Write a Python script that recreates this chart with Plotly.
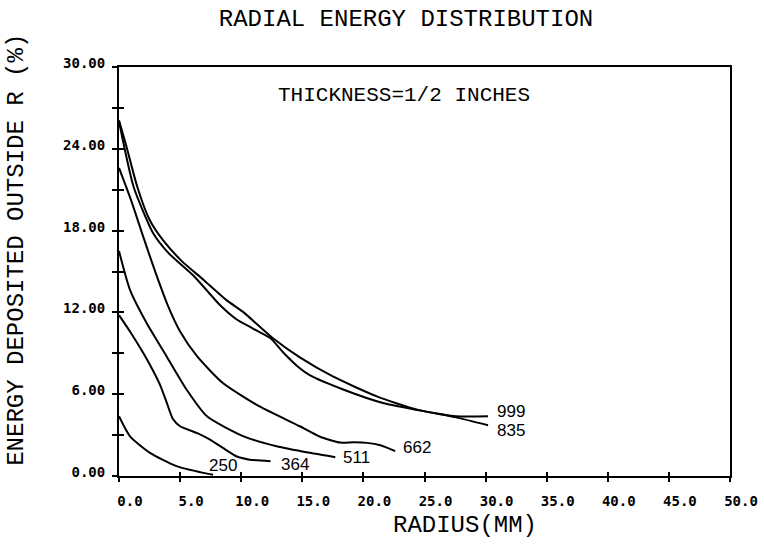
import plotly.graph_objects as go

# ---- data ----
r_999 = [0.0, 0.6, 1.5, 2.5, 3.6, 5.1, 6.9, 8.8, 10.2, 12.6, 14.8, 17.5, 21.1, 24.4, 27.6, 30.2]
e_999 = [26.1, 24.2, 21.2, 18.8, 17.3, 15.8, 14.4, 12.9, 12.0, 10.1, 8.7, 7.3, 5.84, 4.87, 4.38, 4.38]

r_835 = [0.0, 1.2, 2.8, 4.0, 6.2, 7.2, 8.3, 9.6, 11.0, 12.4, 13.4, 14.8, 15.6, 18.4, 21.6, 25.7, 27.6, 30.2]
e_835 = [26.0, 21.2, 17.8, 16.4, 14.6, 13.6, 12.5, 11.5, 10.8, 10.1, 9.1, 7.9, 7.4, 6.33, 5.36, 4.63, 4.3, 3.72]

r_662 = [0.0, 1.0, 2.0, 3.0, 4.0, 5.0, 6.4, 8.5, 11.5, 14.8, 16.4, 18.1, 19.2, 20.3, 21.4, 22.6]
e_662 = [22.6, 20.2, 17.5, 14.9, 12.5, 10.6, 8.77, 6.82, 5.1, 3.65, 2.9, 2.45, 2.47, 2.43, 2.25, 1.82]

r_511 = [0.0, 0.9, 2.27, 3.9, 5.54, 7.2, 10.2, 12.9, 15.6, 17.7]
e_511 = [16.5, 13.65, 11.2, 8.77, 6.33, 4.38, 2.91, 2.18, 1.7, 1.38]

r_364 = [0.0, 0.9, 2.0, 2.8, 3.4, 3.9, 4.4, 5.0, 6.36, 7.45, 8.5, 9.6, 10.7, 12.4]
e_364 = [11.8, 10.6, 9.0, 7.7, 6.6, 5.4, 4.2, 3.65, 3.16, 2.67, 2.06, 1.45, 1.2, 1.08]

r_250 = [0.0, 0.9, 2.54, 4.7, 6.9, 7.7]
e_250 = [4.38, 2.91, 1.7, 0.72, 0.23, 0.1]

curve_names = ["999", "835", "662", "511", "364", "250"]
x_ticks = [0, 5, 10, 15, 20, 25, 30, 35, 40, 45, 50]
y_ticks = [0, 6, 12, 18, 24, 30]

title_text = "RADIAL ENERGY DISTRIBUTION"
x_title = "RADIUS(MM)"
y_title = "ENERGY DEPOSITED OUTSIDE R (%)"
note_text = "THICKNESS=1/2 INCHES"

# ---- figure ----
curves = [(r_999, e_999), (r_835, e_835), (r_662, e_662),
          (r_511, e_511), (r_364, e_364), (r_250, e_250)]
# label offsets in pixels (xshift, yshift) from curve end
label_offsets = {"999": (7, 5), "835": (7, -5), "662": (6, 4),
                 "511": (6, 0), "364": (8, -3), "250": (-6, 9)}

fig = go.Figure()
for name, (xs, ys) in zip(curve_names, curves):
    fig.add_trace(go.Scatter(x=xs, y=ys, mode="lines", name=name,
                             line=dict(color="black", width=2, shape="spline", smoothing=0.6),
                             showlegend=False, hoverinfo="skip"))
# invisible trace for the overlay axes (inner half of tick marks)
fig.add_trace(go.Scatter(x=[None], y=[None], xaxis="x2", yaxis="y2", showlegend=False))

mono = "Liberation Mono"
tickfont = dict(family="DejaVu Sans Mono", size=14, color="black", weight="bold")

fig.update_layout(
    width=764, height=559,
    margin=dict(l=119, r=34, t=67, b=82.5, autoexpand=False),
    paper_bgcolor="white", plot_bgcolor="white",
    title=dict(text=title_text, x=406/764, xanchor="center", xref="container",
               y=1-18/559, yanchor="middle", yref="container",
               font=dict(family=mono, size=24, color="black")),
    xaxis=dict(range=[0, 50], tickvals=x_ticks, tickformat=".1f",
               ticks="outside", ticklen=4, tickwidth=2, tickcolor="black",
               showline=True, linewidth=2, linecolor="black", mirror=True,
               showgrid=False, zeroline=False, tickfont=tickfont, automargin=False,
               ticklabelshift=11, ticklabelstandoff=7),
    yaxis=dict(range=[0, 30], tickvals=y_ticks, tickformat=".2f",
               ticks="outside", ticklen=5, tickwidth=2, tickcolor="black",
               minor=dict(dtick=3, tick0=3, ticks="outside", ticklen=5, tickwidth=2, tickcolor="black"),
               showline=True, linewidth=2, linecolor="black", mirror=True,
               showgrid=False, zeroline=False, tickfont=tickfont, automargin=False,
               ticklabelshift=-4, ticklabelstandoff=4),
    xaxis2=dict(range=[0, 50], overlaying="x", anchor="y2", side="bottom",
                tickvals=x_ticks, ticks="inside", ticklen=4, tickwidth=2, tickcolor="black",
                showticklabels=False, showline=False, showgrid=False, zeroline=False),
    yaxis2=dict(range=[0, 30], overlaying="y", anchor="x2", side="left",
                tickvals=y_ticks, ticks="inside", ticklen=5, tickwidth=2, tickcolor="black",
                minor=dict(dtick=3, tick0=3, ticks="inside", ticklen=5, tickwidth=2, tickcolor="black"),
                showticklabels=False, showline=False, showgrid=False, zeroline=False),
)

annots = []
for name, (xs, ys) in zip(curve_names, curves):
    dx, dy = label_offsets[name]
    annots.append(dict(x=xs[-1], y=ys[-1], xref="x", yref="y", text=name,
                       showarrow=False, xanchor="left", yanchor="middle",
                       xshift=dx, yshift=dy,
                       font=dict(family="Liberation Sans", size=17, color="black")))
annots.append(dict(x=0.466, y=0.931, xref="paper", yref="paper", text=note_text,
                   showarrow=False, xanchor="center", yanchor="middle",
                   font=dict(family=mono, size=21, color="black")))
annots.append(dict(x=0.566, y=-0.12, xref="paper", yref="paper", text=x_title,
                   showarrow=False, xanchor="center", yanchor="middle",
                   font=dict(family=mono, size=24, color="black")))
annots.append(dict(x=-0.167, y=0.553, xref="paper", yref="paper", text=y_title,
                   showarrow=False, xanchor="center", yanchor="middle", textangle=-90,
                   font=dict(family=mono, size=24, color="black")))
fig.update_layout(annotations=annots)

fig.write_html("out.html")
